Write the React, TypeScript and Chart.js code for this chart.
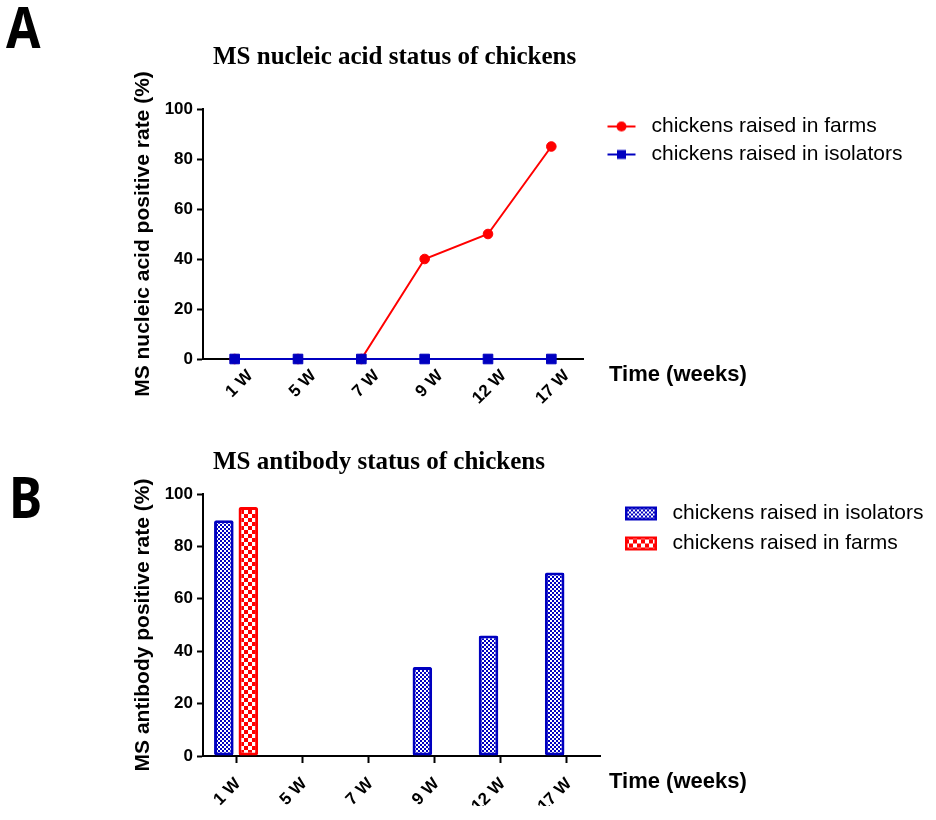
import { useEffect, useRef } from 'react';
import { Chart, ChartConfiguration, registerables } from 'chart.js';

Chart.register(...registerables);

// ---- data ----
const weeks = ['1 W', '5 W', '7 W', '9 W', '12 W', '17 W'];
const yTicks = [0, 20, 40, 60, 80, 100];

// A: MS nucleic acid positive rate (%)
const nucleicFarms = [0, 0, 0, 40, 50, 85];
const nucleicIsolators = [0, 0, 0, 0, 0, 0];

// B: MS antibody positive rate (%)
const antibodyIsolators = [90, null, null, 34, 46, 70];
const antibodyFarms = [95, null, null, null, null, null];

const RED = '#ff0000';
const BLUE = '#0000c0';
const SANS = '"Liberation Sans", Arial, sans-serif';
const SERIF = '"Liberation Serif", "Times New Roman", serif';
const W = 936;

const tickFont = { family: SANS, size: 17, weight: 'bold' as const };
const axisTitleFont = { family: SANS, size: 21, weight: 'bold' as const };
const legendFont = { family: SANS, size: 21 };

function checkerTile(size: number, cell: number, fg: string) {
  const c = document.createElement('canvas');
  c.width = size;
  c.height = size;
  const g = c.getContext('2d')!;
  g.fillStyle = fg;
  g.fillRect(0, 0, size, size);
  g.fillStyle = '#ffffff';
  g.fillRect(0, 0, cell, cell);
  g.fillRect(cell, cell, cell, cell);
  return c;
}

// legend icon: short line with the series marker (icon sits right of centre)
function lineIcon(color: string, marker: 'circle' | 'rect') {
  const c = document.createElement('canvas');
  c.width = 51;
  c.height = 12;
  const g = c.getContext('2d')!;
  g.strokeStyle = color;
  g.fillStyle = color;
  g.lineWidth = 2;
  g.beginPath();
  g.moveTo(17.5, 6);
  g.lineTo(45.5, 6);
  g.stroke();
  if (marker === 'circle') {
    g.beginPath();
    g.arc(31.5, 6, 5, 0, Math.PI * 2);
    g.fill();
  } else {
    g.fillRect(27, 1.5, 9, 9);
  }
  return c;
}

// legend icon: pattern-filled box
function boxIcon(tile: HTMLCanvasElement, color: string) {
  const c = document.createElement('canvas');
  c.width = 53;
  c.height = 16;
  const g = c.getContext('2d')!;
  g.fillStyle = g.createPattern(tile, 'repeat')!;
  g.fillRect(16, 1, 32, 14);
  g.strokeStyle = color;
  g.lineWidth = 2.5;
  g.strokeRect(17.25, 2.25, 29.5, 11.5);
  return c;
}

function textWidth(ctx: CanvasRenderingContext2D, font: string, texts: string[]) {
  ctx.save();
  ctx.font = font;
  const w = Math.max(...texts.map((t) => ctx.measureText(t).width));
  ctx.restore();
  return w;
}

function extras(title: string, titleDy: number, letter: string, letterX: number, letterY: number, dx: number, dy: number) {
  return {
    id: 'extras',
    afterDraw(chart: Chart) {
      const { ctx, chartArea } = chart;
      ctx.save();
      ctx.fillStyle = '#000';
      ctx.textAlign = 'left';
      ctx.textBaseline = 'middle';
      ctx.font = `bold 25px ${SERIF}`;
      ctx.fillText(title, chartArea.left + 10, chartArea.top - titleDy);
      ctx.font = `bold 22px ${SANS}`;
      ctx.fillText('Time (weeks)', chartArea.right + dx, chartArea.bottom + dy);
      ctx.textBaseline = 'alphabetic';
      ctx.font = 'bold 58px "Noto Sans", sans-serif';
      ctx.translate(letterX, letterY);
      ctx.scale(0.86, 1);
      ctx.fillText(letter, 0, 0);
      ctx.restore();
    },
  };
}

function yScale(title: string) {
  return {
    min: 0,
    max: 100,
    afterBuildTicks: (s: any) => {
      s.ticks = yTicks.map((v) => ({ value: v }));
    },
    afterFit: (s: any) => {
      s.width = 83;
    },
    grid: { display: true, drawOnChartArea: false, drawTicks: true, tickLength: 6, tickWidth: 2, tickColor: '#000' },
    border: { display: true, color: '#000', width: 2 },
    ticks: { color: '#000', font: tickFont, padding: 4 },
    title: { display: true, text: title, color: '#000', font: axisTitleFont, padding: { top: 11, bottom: 0 } },
  };
}

function legendOpts(icons: HTMLCanvasElement[], padding: number, iconWidth: number) {
  return {
    position: 'right' as const,
    align: 'start' as const,
    fullSize: false,
    maxWidth: 500,
    labels: {
      usePointStyle: true,
      pointStyleWidth: iconWidth,
      padding,
      color: '#000',
      font: legendFont,
      sort: (a: any, b: any) => a.datasetIndex - b.datasetIndex,
      generateLabels: (chart: Chart) =>
        Chart.defaults.plugins.legend.labels
          .generateLabels(chart)
          .map((it: any) => ({ ...it, pointStyle: icons[it.datasetIndex] })),
    },
  };
}

// right padding so that the plot ends at plotRight, given the legend's own width
function rightPad(ctx: CanvasRenderingContext2D, plotRight: number, padding: number, iconWidth: number, labels: string[]) {
  const legendW = padding + iconWidth + legendFont.size / 2 + textWidth(ctx, `${legendFont.size}px ${SANS}`, labels) + 10;
  return Math.max(0, W - plotRight - legendW);
}

function xScale(height: number, ticksOn: boolean, labelOffset: number, padding: number) {
  return {
    offset: true,
    afterFit: (s: any) => {
      s.height = height;
    },
    grid: ticksOn
      ? { display: true, offset: false, drawOnChartArea: false, drawTicks: true, tickLength: 7, tickWidth: 2, tickColor: '#000' }
      : { display: false, drawTicks: false },
    border: { display: true, color: '#000', width: 2 },
    ticks: {
      color: '#000',
      font: tickFont,
      minRotation: 45,
      maxRotation: 45,
      autoSkip: false,
      labelOffset,
      padding,
    },
  };
}

function nucleicConfig(ctx: CanvasRenderingContext2D): ChartConfiguration {
  const labels = ['chickens raised in farms', 'chickens raised in isolators'];
  return {
    type: 'line',
    data: {
      labels: weeks,
      datasets: [
        {
          label: labels[0],
          data: nucleicFarms,
          borderColor: RED,
          backgroundColor: RED,
          borderWidth: 2,
          pointStyle: 'circle',
          pointRadius: 4.8,
          pointBorderWidth: 1,
          order: 1,
          clip: false,
        },
        {
          label: labels[1],
          data: nucleicIsolators,
          borderColor: BLUE,
          backgroundColor: BLUE,
          borderWidth: 2,
          pointStyle: 'rect',
          pointRadius: 6.8,
          pointBorderWidth: 1,
          order: 0,
          clip: false,
        },
      ],
    },
    options: {
      animation: false,
      responsive: true,
      maintainAspectRatio: false,
      layout: { padding: { left: 120, right: rightPad(ctx, 583, 7, 51, labels), top: 109, bottom: 6 } },
      plugins: {
        legend: legendOpts([lineIcon(RED, 'circle'), lineIcon(BLUE, 'rect')], 7, 51) as any,
        tooltip: { enabled: false },
      },
      scales: {
        x: xScale(45, false, 15.5, 7) as any,
        y: yScale('MS nucleic acid positive rate (%)') as any,
      },
    },
    plugins: [extras('MS nucleic acid status of chickens', 51, 'A', 6, 48, 26, 16)],
  };
}

function antibodyConfig(ctx: CanvasRenderingContext2D): ChartConfiguration {
  const labels = ['chickens raised in isolators', 'chickens raised in farms'];
  const blueTile = checkerTile(4, 2, BLUE);
  const redTile = checkerTile(8, 4, RED);
  const bar = {
    borderWidth: 3,
    borderSkipped: false,
    borderRadius: 2,
    categoryPercentage: 0.74,
    barPercentage: 0.8,
  };
  return {
    type: 'bar',
    data: {
      labels: weeks,
      datasets: [
        {
          label: labels[0],
          data: antibodyIsolators,
          backgroundColor: ctx.createPattern(blueTile, 'repeat')!,
          borderColor: BLUE,
          ...bar,
        },
        {
          label: labels[1],
          data: antibodyFarms,
          backgroundColor: ctx.createPattern(redTile, 'repeat')!,
          borderColor: RED,
          ...bar,
        },
      ] as any,
    },
    options: {
      animation: false,
      responsive: true,
      maintainAspectRatio: false,
      layout: { padding: { left: 120, right: rightPad(ctx, 600, 9, 53, labels), top: 84, bottom: 14 } },
      plugins: {
        legend: legendOpts([boxIcon(blueTile, BLUE), boxIcon(redTile, RED)], 9, 53) as any,
        tooltip: { enabled: false },
      },
      scales: {
        x: xScale(50, true, 2, 11) as any,
        y: yScale('MS antibody positive rate (%)') as any,
      },
    },
    plugins: [extras('MS antibody status of chickens', 31, 'B', 9, 108, 9, 26)],
  };
}

function Panel({ top, build }: { top: number; build: (ctx: CanvasRenderingContext2D) => ChartConfiguration }) {
  const canvasRef = useRef<HTMLCanvasElement>(null);

  useEffect(() => {
    if (!canvasRef.current) return;
    const ctx = canvasRef.current.getContext('2d');
    if (!ctx) return;
    const chart = new Chart(ctx, build(ctx));
    return () => chart.destroy();
  }, []);

  return (
    <div style={{ position: 'absolute', left: 0, top, width: W, height: 410 }}>
      <canvas ref={canvasRef} />
    </div>
  );
}

export default function App() {
  return (
    <div style={{ position: 'fixed', left: 0, top: 0, width: W, height: 820, background: '#fff' }}>
      <Panel top={0} build={nucleicConfig} />
      <Panel top={410} build={antibodyConfig} />
    </div>
  );
}
